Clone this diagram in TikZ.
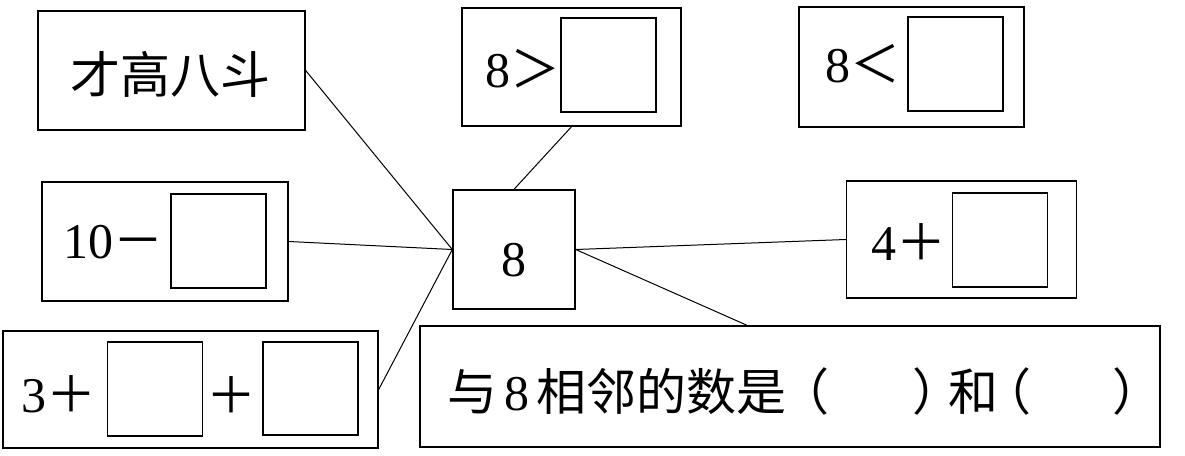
\documentclass[tikz,border=0pt]{standalone}
\usepackage{fontspec}
\setmainfont{Liberation Serif}
\newfontfamily\cjk{Noto Sans CJK SC}
\usetikzlibrary{calc}

\begin{document}
\begin{tikzpicture}
[
  x=1pt,
  y=-1pt,
  outer/.style={draw,line width=1.4pt,inner sep=0pt},
  sq/.style={draw,line width=1.4pt,inner sep=0pt,minimum width=95,minimum height=94},
  lbl/.style={inner sep=0pt,font=\fontsize{50}{60}\selectfont},
  link/.style={line width=1pt}
]

\useasboundingbox (0,0) rectangle (1185,455);

\node[outer,minimum width=267,minimum height=119] (idiom) at (171.5,70.5) {};
\node[lbl] (idiomtxt) at (170.5,74) {\cjk 才高八斗};

\node[outer,minimum width=219,minimum height=118] (gt) at (571.5,67) {};
\node[sq] (gtsq) at (608.5,65) {};
\node[lbl] (gttxt) at (523,68.5) {8{\cjk ＞}};

\node[outer,minimum width=225,minimum height=120] (lt) at (911.5,67) {};
\node[sq] (ltsq) at (955.5,64) {};
\node[lbl] (lttxt) at (863,63.5) {8{\cjk ＜}};

\node[outer,minimum width=246,minimum height=119] (sub) at (165,241.5) {};
\node[sq] (subsq) at (218.5,241) {};
\node[lbl] (subtxt) at (113,242) {10{\cjk －}};

\node[outer,minimum width=122,minimum height=119] (mid) at (514,249.5) {};
\node[lbl] (midtxt) at (514,260.5) {8};

\node[outer,minimum width=375,minimum height=117] (sum) at (190.5,389.5) {};
\node[sq] (sumsqa) at (155,389) {};
\node[sq,minimum height=93] (sumsqb) at (310.5,388.5) {};
\node[lbl] (sumtxt) at (58.5,394) {3{\cjk ＋}};
\node[lbl] (sumplus) at (231.5,395) {\cjk ＋};

\node[outer,minimum width=230,minimum height=117] (add) at (961.5,239.5) {};
\node[sq] (addsq) at (1000,240) {};
\node[lbl] (addtxt) at (909,242) {4{\cjk ＋}};

\node[outer,minimum width=740,minimum height=121] (adj) at (790,386.5) {};
\node[lbl,anchor=west] (adjtxt) at (447,391) {\cjk 与\hspace{7pt}{\rmfamily 8}\hspace{7pt}相邻的数是\hspace{-7pt}（\hspace{83pt}）\hspace{-14pt}和\hspace{-17pt}（\hspace{81pt}）};

\draw[link] (idiom.east) -- (mid.west);
\draw[link] (sub.east) -- (mid.west);
\draw[link] (sum.east) -- (mid.west);
\draw[link] (gt.south) -- (mid.north);
\draw[link] (mid.east) -- (add.west);
\draw[link] (mid.east) -- ($(adj.north west)!0.442!(adj.north east)$);

\end{tikzpicture}
\end{document}
